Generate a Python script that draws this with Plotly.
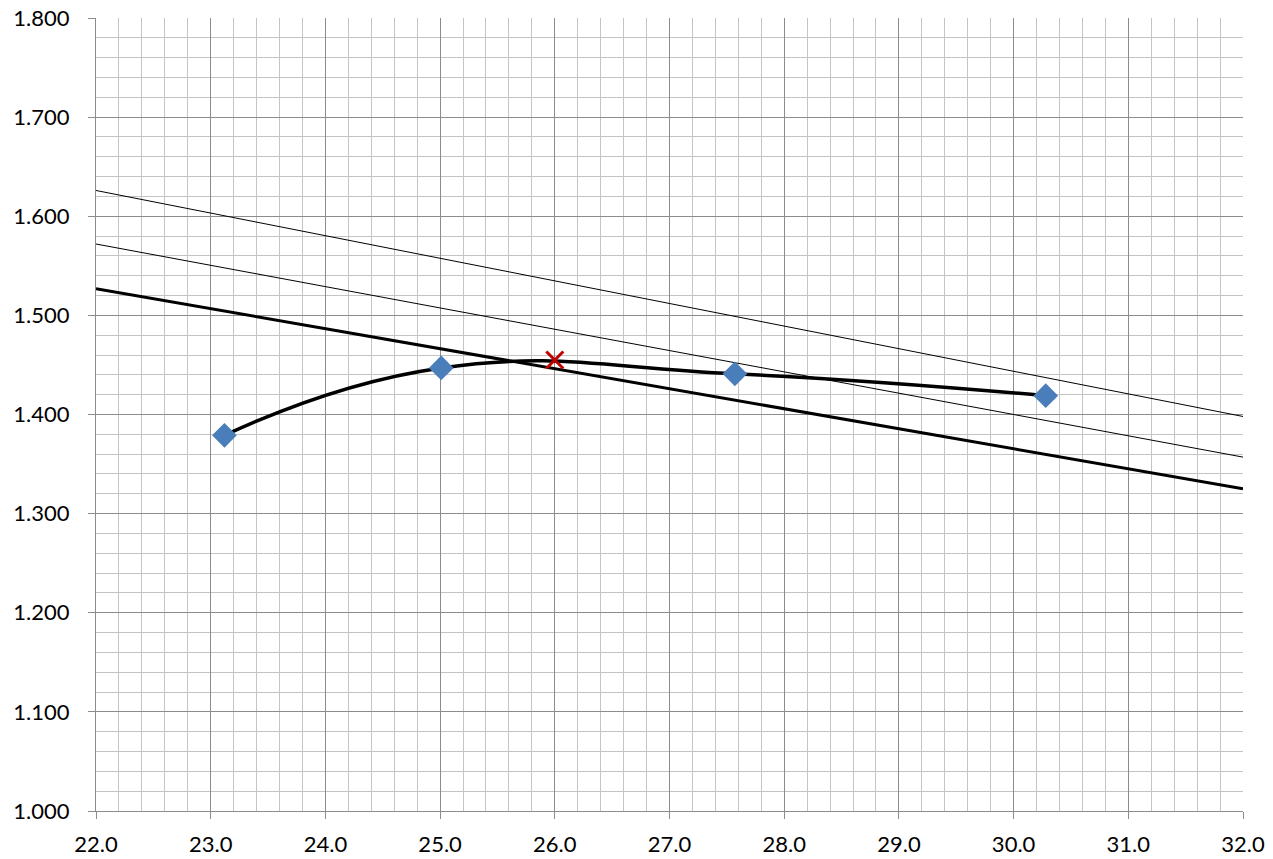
import plotly.graph_objects as go

# Data points (diamonds) and smoothed curve
pts_x = [23.12, 25.01, 27.57, 30.28]
pts_y = [1.379, 1.447, 1.441, 1.419]

# Red cross
cross_x = [26.0]
cross_y = [1.455]

# Straight lines (endpoints at x=22 and x=32)
line_x = [22.0, 32.0]
thick_y = [1.527, 1.325]
thin1_y = [1.626, 1.398]
thin2_y = [1.572, 1.357]

x_ticks = [22 + i for i in range(11)]
y_ticks = [1.0 + 0.1 * i for i in range(9)]

fig = go.Figure()
fig.add_trace(go.Scatter(x=line_x, y=thin1_y, mode="lines", line=dict(color="black", width=1), showlegend=False))
fig.add_trace(go.Scatter(x=line_x, y=thin2_y, mode="lines", line=dict(color="black", width=1), showlegend=False))
fig.add_trace(go.Scatter(x=line_x, y=thick_y, mode="lines", line=dict(color="black", width=3), showlegend=False))
fig.add_trace(go.Scatter(x=pts_x, y=pts_y, mode="lines", line=dict(color="black", width=3.5, shape="spline", smoothing=1.3), showlegend=False))
fig.add_trace(go.Scatter(x=pts_x, y=pts_y, mode="markers",
                         marker=dict(symbol="diamond", size=19, color="#4A7EBB", line=dict(width=0)), showlegend=False))
fig.add_trace(go.Scatter(x=cross_x, y=cross_y, mode="markers",
                         marker=dict(symbol="x-thin-open", size=17, color="#C00000", line=dict(width=3, color="#C00000")), showlegend=False))

font = dict(family="Lato, Open Sans, sans-serif", size=22, color="black")
fig.update_layout(
    width=1273, height=859,
    margin=dict(l=96, r=30, t=18, b=48),
    plot_bgcolor="white", paper_bgcolor="white",
    font=font,
)
fig.update_xaxes(range=[22, 32], tickvals=x_ticks, ticktext=[f"{v:.1f}" for v in x_ticks],
                 showgrid=True, gridcolor="#8C8C8C", gridwidth=1.3,
                 minor=dict(dtick=0.2, showgrid=True, gridcolor="#C4C4C4", gridwidth=1.3),
                 showline=True, linecolor="#8C8C8C", linewidth=1.3,
                 ticks="outside", ticklen=7, tickcolor="#8C8C8C", tickwidth=1.3,
                 zeroline=False, tickfont=font, ticklabelstandoff=6, automargin=False,
                 ticklabeloverflow="allow")
fig.update_yaxes(range=[1.0, 1.8], tickvals=y_ticks, ticktext=[f"{v:.3f}" for v in y_ticks],
                 showgrid=True, gridcolor="#8C8C8C", gridwidth=1.3,
                 minor=dict(dtick=0.02, showgrid=True, gridcolor="#C4C4C4", gridwidth=1.3),
                 showline=True, linecolor="#8C8C8C", linewidth=1.3,
                 ticks="outside", ticklen=7, tickcolor="#8C8C8C", tickwidth=1.3,
                 zeroline=False, tickfont=font, ticklabelstandoff=14, automargin=False,
                 ticklabeloverflow="allow")
fig.write_html("out.html", config={"displayModeBar": False},
               post_script="document.body.style.margin='0';document.body.style.overflow='hidden';")
